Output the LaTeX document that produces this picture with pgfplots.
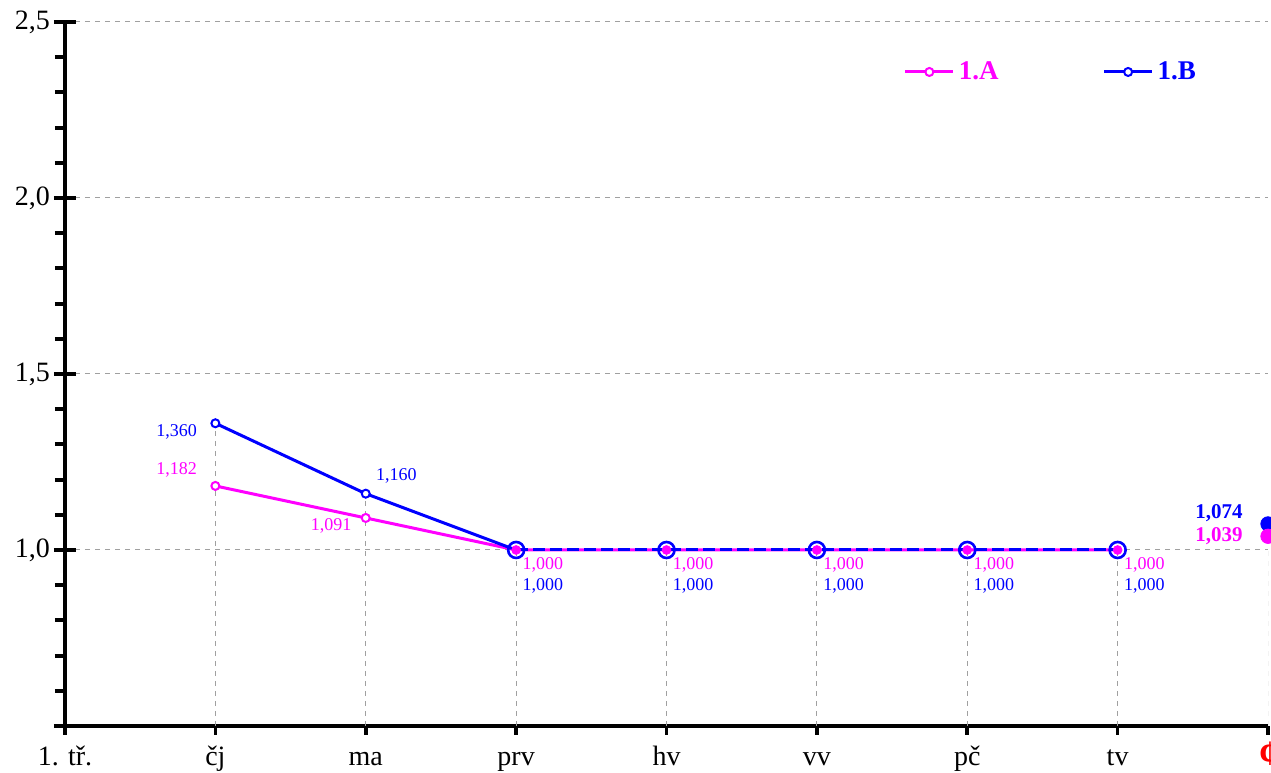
\documentclass[border=0pt]{standalone}
\usepackage{pgfplots}
\pgfplotsset{compat=1.18}
\usepackage{fontspec}
\setmainfont{Liberation Serif}

\definecolor{cMag}{RGB}{255,0,255}
\definecolor{cBlue}{RGB}{0,0,255}
\definecolor{cGrid}{RGB}{160,160,160}

\pgfplotsset{
  lbl/.style={draw=none, mark=none, forget plot, nodes near coords, point meta=y,
    every node near coord/.append style={font=\fontsize{9}{10}\selectfont, inner sep=0pt,
      /pgf/number format/fixed, /pgf/number format/fixed zerofill,
      /pgf/number format/precision=3, /pgf/number format/use comma,
      /pgf/number format/assume math mode=true}},
}

\begin{document}
\begin{tikzpicture}
\begin{axis}[
    scale only axis,
    width=601.5pt, height=352pt,
    xmin=0, xmax=8, ymin=0.5, ymax=2.5,
    axis lines=left,
    axis line style={-, line width=2pt},
    xtick={0,...,8},
    xticklabels={1. tř., čj, ma, prv, hv, vv, pč, tv, {\fontsize{18}{18}\selectfont\bfseries\color{red}¢}},
    ytick={0.5,1,...,2.5},
    yticklabels={,{1,0},{1,5},{2,0},{2,5}},
    minor y tick num=4,
    tick align=outside,
    major tick length=11pt,
    minor tick length=5pt,
    tick style={line width=2pt, black},
    major y tick style={xshift=5.5pt},
    x tick style={line width=1.8pt, /pgfplots/major tick length=4.5pt},
    tick label style={font=\fontsize{14}{14}\selectfont},
    yticklabel style={xshift=7pt},
    xticklabel style={anchor=north, text height=9pt, text depth=3pt, yshift=4pt},
    ymajorgrids,
    major grid style={cGrid, line width=0.5pt, dash pattern=on 2.5pt off 2.5pt},
    legend columns=2,
    legend style={draw=none, fill=none, at={(rel axis cs:0.692,0.929)}, anchor=west,
      font=\fontsize{13.5}{14}\selectfont\bfseries,
      /tikz/every even column/.append style={column sep=50pt}},
    legend image code/.code={\draw[mark repeat=2,mark phase=2,#1] plot coordinates {(0pt,0pt)(12pt,0pt)(24pt,0pt)};},
]
% drop lines
\addplot[ycomb, cGrid, line width=0.5pt, dash pattern=on 2.5pt off 2.5pt, mark=none, forget plot]
  coordinates {(1,1.360)(2,1.160)(3,1)(4,1)(5,1)(6,1)(7,1)(8,1)};

% series lines
\addplot[cMag, line width=1.5pt, forget plot]
  coordinates {(1,1.182)(2,1.091)(3,1)(4,1)(5,1)(6,1)(7,1)};
\addplot[cBlue, line width=1.5pt, forget plot]
  coordinates {(1,1.360)(2,1.160)(3,1)};
\addplot[cBlue, line width=1.5pt, dash pattern=on 6pt off 2.5pt, forget plot]
  coordinates {(3,1)(4,1)(5,1)(6,1)(7,1)};

% markers
\addplot[only marks, mark=*, mark size=2pt, mark options={draw=cMag, fill=white, line width=1pt}, forget plot]
  coordinates {(1,1.182)(2,1.091)};
\addplot[only marks, mark=*, mark size=2pt, mark options={draw=cBlue, fill=white, line width=1pt}, forget plot]
  coordinates {(1,1.360)(2,1.160)};
\addplot[only marks, mark=*, mark size=2.2pt, cMag, forget plot]
  coordinates {(3,1)(4,1)(5,1)(6,1)(7,1)};
\addplot[only marks, mark=o, mark size=4pt, cBlue, line width=1.3pt, forget plot]
  coordinates {(3,1)(4,1)(5,1)(6,1)(7,1)};

% averages
\addplot[only marks, mark=*, mark size=3.6pt, cBlue, forget plot] coordinates {(8,1.074)};
\addplot[only marks, mark=*, mark size=3.6pt, cMag, forget plot] coordinates {(8,1.039)};

% value labels
\addplot[lbl, nodes near coords style={text=cBlue, anchor=east, xshift=-9pt, yshift=-4.5pt}] coordinates {(1,1.360)};
\addplot[lbl, nodes near coords style={text=cMag, anchor=east, xshift=-9pt, yshift=8pt}] coordinates {(1,1.182)};
\addplot[lbl, nodes near coords style={text=cBlue, anchor=west, xshift=5pt, yshift=9pt}] coordinates {(2,1.160)};
\addplot[lbl, nodes near coords style={text=cMag, anchor=east, xshift=-7pt, yshift=-4pt}] coordinates {(2,1.091)};
\addplot[lbl, nodes near coords style={text=cMag, anchor=west, xshift=3pt, yshift=-7.5pt}]
  coordinates {(3,1)(4,1)(5,1)(6,1)(7,1)};
\addplot[lbl, nodes near coords style={text=cBlue, anchor=west, xshift=3pt, yshift=-18pt}]
  coordinates {(3,1)(4,1)(5,1)(6,1)(7,1)};
\addplot[lbl, nodes near coords style={text=cBlue, anchor=east, xshift=-12.5pt, yshift=5.5pt, font=\fontsize{10.5}{11}\selectfont\bfseries}] coordinates {(8,1.074)};
\addplot[lbl, nodes near coords style={text=cMag, anchor=east, xshift=-12.5pt, yshift=0pt, font=\fontsize{10.5}{11}\selectfont\bfseries}] coordinates {(8,1.039)};

% legend
\addlegendimage{cMag, line width=1.5pt, mark=*, mark size=2pt, mark options={fill=white, line width=1pt}}
\addlegendentry{\textcolor{cMag}{1.A}}
\addlegendimage{cBlue, line width=1.5pt, mark=*, mark size=2pt, mark options={fill=white, line width=1pt}}
\addlegendentry{\textcolor{cBlue}{1.B}}

\coordinate (bl) at (rel axis cs:0,0);
\coordinate (tr) at (rel axis cs:1,1);
\end{axis}
\pgfresetboundingbox
\path[use as bounding box] ([xshift=-32.5pt,yshift=-23.5pt]bl) rectangle ([xshift=1.5pt,yshift=11pt]tr);
\end{tikzpicture}
\end{document}
